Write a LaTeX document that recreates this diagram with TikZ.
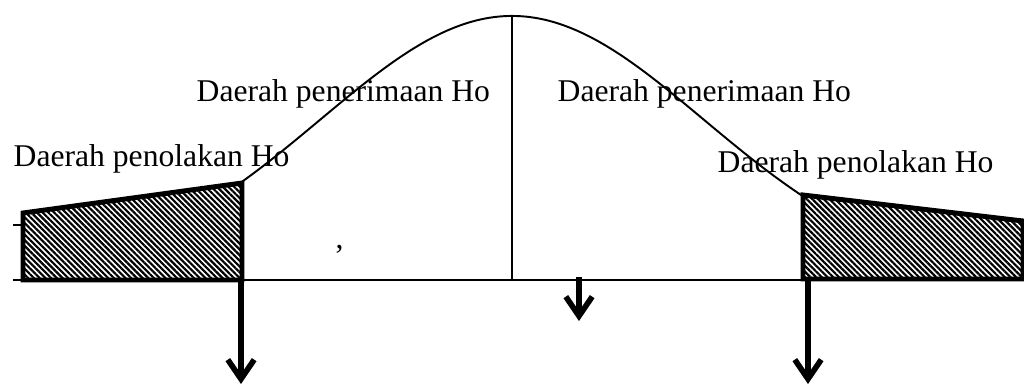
\documentclass[tikz,border=0pt]{standalone}
\usepackage{fontspec}
\setmainfont{Liberation Serif}
\usepackage{tikz}
\usetikzlibrary{arrows.meta, patterns.meta}
\tikzset{
  thinline/.style={line width=0.55pt, color=black},
  tailbox/.style={line width=1.4pt, draw=black, line join=miter,
    pattern={Lines[angle=-45, distance=1.15pt, line width=0.62pt]}},
  downarrow/.style={line width=1.45pt, -{Straight Barb[length=5.5pt, width=7.5pt, line width=1.6pt]}},
  label/.style={anchor=base west, inner sep=0pt, font=\fontsize{9pt}{11pt}\selectfont}
}

\begin{document}
\begin{tikzpicture}
  \useasboundingbox (0,0) rectangle (10.24,3.87);

  % Axis and ticks
  \coordinate (axL) at (0.13,1.07);
  \coordinate (axR) at (10.24,1.07);
  \coordinate (tickL) at (0.13,1.62);
  \coordinate (tickR) at (0.23,1.62);
  \draw[thinline] (axL) -- (axR);
  \draw[thinline] (tickL) -- (tickR);

  % Rejection regions
  \coordinate (lb1) at (0.23,1.07);
  \coordinate (lb2) at (0.23,1.74);
  \coordinate (lb3) at (2.42,2.04);
  \coordinate (lb4) at (2.42,1.07);
  \draw[tailbox] (lb1) -- (lb2) -- (lb3) -- (lb4) -- cycle;
  \coordinate (rb1) at (8.03,1.08);
  \coordinate (rb2) at (8.03,1.92);
  \coordinate (rb3) at (10.23,1.66);
  \coordinate (rb4) at (10.23,1.08);
  \draw[tailbox] (rb1) -- (rb2) -- (rb3) -- (rb4) -- cycle;

  % Normal curve
  \draw[thinline] plot[domain=2.42:8.03, samples=90, smooth]
    (\x, {1.07+2.64*exp(-(\x-5.12)^2/7.3728)});

  % Centre line
  \coordinate (c0) at (5.12,1.07);
  \coordinate (c1) at (5.12,3.71);
  \draw[thinline] (c0) -- (c1);

  % Arrows
  \coordinate (a1) at (2.41,1.07);
  \coordinate (a1e) at (2.41,0.03);
  \coordinate (a2) at (5.79,1.10);
  \coordinate (a2e) at (5.79,0.66);
  \coordinate (a3) at (8.08,1.07);
  \coordinate (a3e) at (8.08,0.03);
  \draw[downarrow] (a1) -- (a1e);
  \draw[downarrow] (a2) -- (a2e);
  \draw[downarrow] (a3) -- (a3e);

  % Labels
  \node[label] (accL) at (1.96,2.85) {Daerah penerimaan Ho};
  \node[label] (accR) at (5.57,2.85) {Daerah penerimaan Ho};
  \node[label] (rejL) at (0.13,2.20) {Daerah penolakan Ho};
  \node[label] (rejR) at (7.17,2.14) {Daerah penolakan Ho};
  \node[label] (comma) at (3.35,1.38) {,};
\end{tikzpicture}
\end{document}
